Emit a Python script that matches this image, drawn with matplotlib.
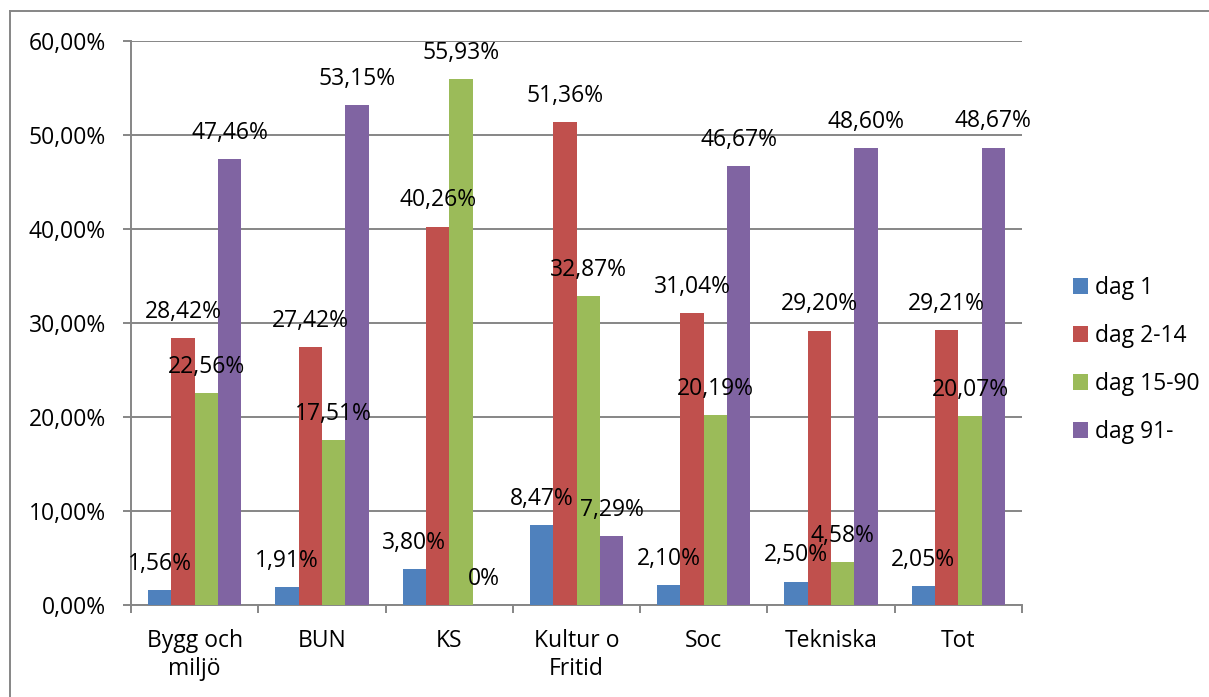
import numpy as np
import matplotlib.pyplot as plt
from matplotlib.lines import Line2D

categories = ['Bygg och\nmiljö', 'BUN', 'KS', 'Kultur o\nFritid', 'Soc', 'Tekniska', 'Tot']
series_names = ['dag 1', 'dag 2-14', 'dag 15-90', 'dag 91-']
dag1 = [1.56, 1.91, 3.80, 8.47, 2.10, 2.50, 2.05]
dag2_14 = [28.42, 27.42, 40.26, 51.36, 31.04, 29.20, 29.21]
dag15_90 = [22.56, 17.51, 55.93, 32.87, 20.19, 4.58, 20.07]
dag91 = [47.46, 53.15, 0.0, 7.29, 46.67, 48.60, 48.67]
colors = ['#4F81BD', '#C0504D', '#9BBB59', '#8064A2']

plt.rcParams['font.family'] = ['Open Sans', 'DejaVu Sans']
FS = 16.5
GRAY = '#868686'

W, H = 1209, 697
fig = plt.figure(figsize=(W / 100, H / 100), dpi=100)
ax = fig.add_axes([131 / W, 1 - 605 / H, (1022 - 131) / W, (605 - 41) / H])

x = np.arange(len(categories))
w = 0.183
all_series = [dag1, dag2_14, dag15_90, dag91]
for i, vals in enumerate(all_series):
    pos = x + (i - 1.5) * w
    ax.bar(pos, vals, w, color=colors[i], label=series_names[i], zorder=3)
    for p, v in zip(pos, vals):
        txt = '0%' if v == 0 else ('%.2f%%' % v).replace('.', ',')
        ax.annotate(txt, (p, v), xytext=(0, 14.5), textcoords='offset points',
                    ha='center', va='baseline', fontsize=FS, zorder=4)

ax.set_xlim(-0.5, len(categories) - 0.5)
ax.set_ylim(0, 60)
ticks = np.arange(0, 61, 10)
ax.set_yticks(ticks)
ax.set_yticklabels([('%.2f%%' % t).replace('.', ',') for t in ticks], fontsize=FS)
ax.yaxis.grid(True, color=GRAY, linewidth=1.4, zorder=0)
ax.set_xticks(x)
ax.set_xticklabels(categories, fontsize=FS, linespacing=1.25)
ax.set_xticks(np.arange(-0.5, len(categories)), minor=True)
ax.tick_params(axis='x', which='major', length=0, pad=17)
ax.tick_params(axis='x', which='minor', length=6, color=GRAY, width=1.4)
ax.tick_params(axis='y', length=6, color=GRAY, width=1.4, pad=12)
for s in ['top', 'right']:
    ax.spines[s].set_visible(False)
for s in ['left', 'bottom']:
    ax.spines[s].set_color(GRAY)
    ax.spines[s].set_linewidth(1.4)

fig.legend(*ax.get_legend_handles_labels(), loc='center left',
           bbox_to_anchor=(1062 / W, 1 - 360 / H), frameon=False, borderpad=0,
           fontsize=FS, handlelength=0.65, handleheight=0.65, labelspacing=1.05,
           handletextpad=0.3)

# outer chart border (only left and top visible in the crop)
fig.lines.append(Line2D([9.5 / W, 9.5 / W], [0, 1 - 11 / H], transform=fig.transFigure,
                        color=GRAY, linewidth=1.4))
fig.lines.append(Line2D([9.5 / W, 1], [1 - 11 / H, 1 - 11 / H], transform=fig.transFigure,
                        color=GRAY, linewidth=1.4))

fig.savefig('out.png', dpi=100)
